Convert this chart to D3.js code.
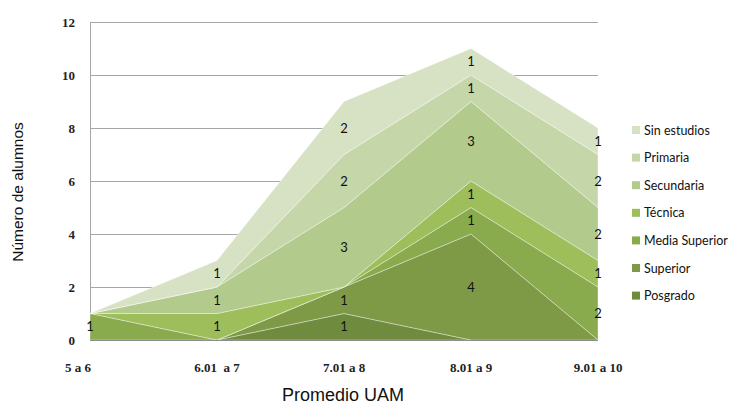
<!DOCTYPE html>
<html><head><meta charset="utf-8">
<script src="https://cdn.jsdelivr.net/npm/d3@7"></script>
<style>body{margin:0;background:#fff}svg{display:block}</style>
</head><body><svg id="c" width="742" height="408"></svg>
<script>
const categories = ["5 a 6", "6.01  a 7", "7.01 a 8", "8.01 a 9", "9.01 a 10"];
const seriesNames = ["Posgrado", "Superior", "Media Superior", "Técnica", "Secundaria", "Primaria", "Sin estudios"];
const posgrado      = [0, 0, 1, 0, 0];
const superior      = [0, 0, 1, 4, 0];
const mediaSuperior = [1, 0, 0, 1, 2];
const tecnica       = [0, 1, 0, 1, 1];
const secundaria    = [0, 1, 3, 3, 2];
const primaria      = [0, 0, 2, 1, 2];
const sinEstudios   = [0, 1, 2, 1, 1];
const yTicks = [0, 2, 4, 6, 8, 10, 12];
const colors = ["#6f8b3d", "#7e9a47", "#8aab4d", "#9dbe5b", "#b2ca8c", "#c5d7a9", "#d7e2c5"];

(function () {
const seriesValues = [posgrado, superior, mediaSuperior, tecnica, secundaria, primaria, sinEstudios];
const rows = categories.map((c, i) => {
  const r = {cat: c};
  seriesNames.forEach((s, k) => r[s] = seriesValues[k][i]);
  return r;
});
const stack = d3.stack().keys(seriesNames)(rows);

const svg = d3.select("#c");
const pl = 90, pr = 598, pt = 22, pb = 340;
const x = d3.scalePoint().domain(categories).range([pl, pr]);
const y = d3.scaleLinear().domain([0, 12]).range([pb, pt]);
const tickFont = "'Liberation Serif', 'Times New Roman', serif";

svg.append("g").selectAll("line").data(yTicks.filter(t => t > 0)).join("line")
  .attr("x1", pl).attr("x2", pr)
  .attr("y1", d => y(d) + 0.5).attr("y2", d => y(d) + 0.5)
  .attr("stroke", "#a6a6a6").attr("stroke-width", 1);
svg.append("line").attr("x1", pl + 0.5).attr("x2", pl + 0.5).attr("y1", pt).attr("y2", pb)
  .attr("stroke", "#a6a6a6");

const area = d3.area().x((d, i) => x(categories[i])).y0(d => y(d[0])).y1(d => y(d[1]));
svg.append("g").selectAll("path").data(stack).join("path")
  .attr("d", area)
  .attr("fill", (d, i) => colors[i])
  .attr("stroke", "rgba(255,255,255,0.45)").attr("stroke-width", 0.8);

svg.append("line").attr("x1", pl).attr("x2", pr).attr("y1", pb + 0.5).attr("y2", pb + 0.5)
  .attr("stroke", "#8c8c8c");

svg.append("g").selectAll("text").data(yTicks).join("text")
  .attr("x", 75).attr("y", d => y(d) + 4.5)
  .attr("text-anchor", "end")
  .attr("font-family", tickFont).attr("font-weight", "bold").attr("font-size", 13)
  .attr("fill", "#222").text(d => d);

svg.append("g").selectAll("text").data(categories).join("text")
  .attr("x", (d, i) => x(d) + (i === 0 ? -12 : 0)).attr("y", 372)
  .attr("text-anchor", "middle")
  .attr("font-family", tickFont).attr("font-weight", "bold").attr("font-size", 13)
  .attr("fill", "#222").style("white-space", "pre").text(d => d);

const labels = [];
stack.forEach(layer => layer.forEach((d, i) => {
  const v = d[1] - d[0];
  if (v > 0) labels.push({x: x(categories[i]), y: y((d[0] + d[1]) / 2), v});
}));
svg.append("g").selectAll("text").data(labels).join("text")
  .attr("x", d => d.x).attr("y", d => d.y + 4.5)
  .attr("text-anchor", "middle")
  .attr("font-family", "Lato, sans-serif").attr("font-size", 13)
  .attr("fill", "#111").text(d => d.v);

const titleFont = "'Liberation Sans', Arial, sans-serif";
svg.append("text").attr("transform", "translate(23,192) rotate(-90)")
  .attr("text-anchor", "middle").attr("font-family", titleFont)
  .attr("font-size", 15.5).attr("fill", "#111").text("Número de alumnos");
svg.append("text").attr("x", 343).attr("y", 401)
  .attr("text-anchor", "middle").attr("font-family", titleFont)
  .attr("font-size", 18).attr("fill", "#111").text("Promedio UAM");

const legendItems = seriesNames.slice().reverse();
const lg = svg.append("g").selectAll("g").data(legendItems).join("g")
  .attr("transform", (d, i) => `translate(632,${130 + i * 27.6})`);
lg.append("rect").attr("x", 0).attr("y", -4).attr("width", 8).attr("height", 8)
  .attr("fill", d => colors[seriesNames.indexOf(d)]);
lg.append("text").attr("x", 12).attr("y", 4.5)
  .attr("font-family", "Lato, sans-serif").attr("font-size", 12.5).attr("fill", "#111").text(d => d);
})();
</script></body></html>
